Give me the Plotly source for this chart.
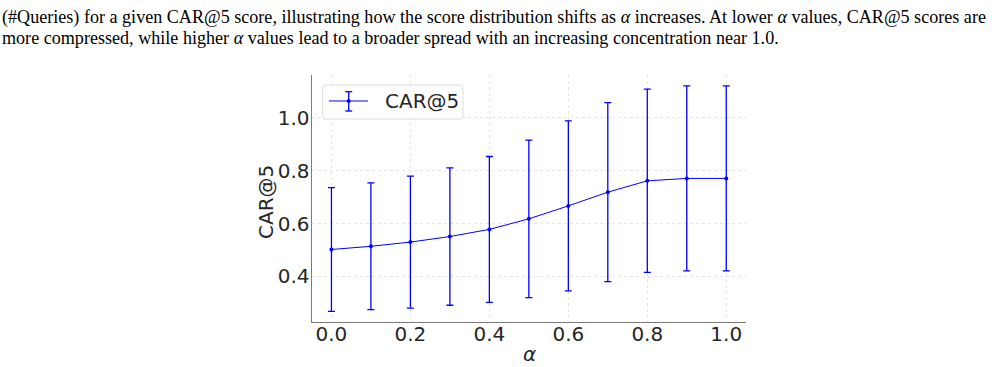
import plotly.graph_objects as go

# ---- data ----
alpha = [0.0, 0.1, 0.2, 0.3, 0.4, 0.5, 0.6, 0.7, 0.8, 0.9, 1.0]
car5_mean = [0.502, 0.514, 0.530, 0.551, 0.578, 0.618, 0.667, 0.719, 0.762, 0.771, 0.771]
car5_std = [0.234, 0.240, 0.250, 0.260, 0.276, 0.298, 0.322, 0.339, 0.347, 0.350, 0.350]
x_ticks = [0.0, 0.2, 0.4, 0.6, 0.8, 1.0]
x_ticklabels = ["0.0", "0.2", "0.4", "0.6", "0.8", "1.0"]
y_ticks = [0.4, 0.6, 0.8, 1.0]
y_ticklabels = ["0.4", "0.6", "0.8", "1.0"]
series_name = "CAR@5"
caption_line1 = ("(#Queries) for a given CAR@5 score, illustrating how the score distribution shifts as "
                 "<i>α</i> increases. At lower <i>α</i> values, CAR@5 scores are")
caption_line2 = ("more compressed, while higher <i>α</i> values lead to a broader spread with an "
                 "increasing concentration near 1.0.")

W, H = 1003, 367
def px(x):
    return x / W
def py(y):
    return 1 - y / H

BLUE = "#0000ff"
TXT = "#262626"
FS = 20

fig = go.Figure()
fig.add_trace(go.Scatter(
    x=alpha, y=car5_mean, mode="lines+markers", name=series_name,
    line=dict(color=BLUE, width=1),
    marker=dict(color=BLUE, size=4),
    error_y=dict(type="data", array=car5_std, visible=True, color=BLUE, thickness=1.3, width=3.5),
    showlegend=False,
))

fig.update_layout(
    width=W, height=H,
    margin=dict(l=0, r=0, t=0, b=0),
    paper_bgcolor="white", plot_bgcolor="white",
    font=dict(family="DejaVu Sans", color=TXT),
    xaxis=dict(
        domain=[px(311.7), px(746)], range=[-0.05, 1.05],
        tickvals=x_ticks, ticktext=x_ticklabels,
        showgrid=True, gridcolor="#e6e6e6", griddash="dot", gridwidth=1,
        showline=True, linecolor="#7a7a7a", linewidth=1.2, mirror=False,
        zeroline=False, ticks="", tickfont=dict(size=FS, color=TXT),
        ticklabelstandoff=-6,
    ),
    yaxis=dict(
        domain=[py(322), py(75)], range=[0.2275, 1.1625],
        tickvals=y_ticks, ticktext=y_ticklabels,
        showgrid=True, gridcolor="#e6e6e6", griddash="dot", gridwidth=1,
        showline=True, linecolor="#7a7a7a", linewidth=1.2, mirror=False,
        zeroline=False, ticks="", tickfont=dict(size=FS, color=TXT),
        ticklabelstandoff=-3,
    ),
)

# axis titles
fig.add_annotation(x=px(266), y=py(202), xref="paper", yref="paper", text=series_name,
                   textangle=-90, showarrow=False, font=dict(size=FS, color=TXT, family="DejaVu Sans"),
                   xanchor="center", yanchor="middle")
fig.add_annotation(x=px(529), y=py(354), xref="paper", yref="paper", text="<i>α</i>",
                   showarrow=False, font=dict(size=FS, color=TXT, family="DejaVu Sans"),
                   xanchor="center", yanchor="middle")

# caption
fig.add_annotation(x=0, y=py(17), xref="paper", yref="paper", text=caption_line1,
                   showarrow=False, xanchor="left", yanchor="middle",
                   font=dict(size=18.1, color="black", family="Liberation Serif"))
fig.add_annotation(x=0, y=py(38), xref="paper", yref="paper", text=caption_line2,
                   showarrow=False, xanchor="left", yanchor="middle",
                   font=dict(size=18.1, color="black", family="Liberation Serif"))

# custom legend (box + errorbar glyph + label)
x0, x1, y0, y1, r = 322.7, 463, 85, 119, 3
path = (f"M {px(x0+r)},{py(y0)} L {px(x1-r)},{py(y0)} Q {px(x1)},{py(y0)} {px(x1)},{py(y0+r)} "
        f"L {px(x1)},{py(y1-r)} Q {px(x1)},{py(y1)} {px(x1-r)},{py(y1)} "
        f"L {px(x0+r)},{py(y1)} Q {px(x0)},{py(y1)} {px(x0)},{py(y1-r)} "
        f"L {px(x0)},{py(y0+r)} Q {px(x0)},{py(y0)} {px(x0+r)},{py(y0)} Z")
fig.add_shape(type="path", path=path, xref="paper", yref="paper",
              line=dict(color="#dcdcdc", width=1), fillcolor="rgba(255,255,255,0.85)")
gy = 101
gx = 348.7
fig.add_shape(type="line", xref="paper", yref="paper", x0=px(329), x1=px(368), y0=py(gy), y1=py(gy),
              line=dict(color=BLUE, width=1))
fig.add_shape(type="line", xref="paper", yref="paper", x0=px(gx), x1=px(gx), y0=py(91.7), y1=py(111),
              line=dict(color=BLUE, width=1.3))
for cy in (91.7, 111):
    fig.add_shape(type="line", xref="paper", yref="paper", x0=px(gx-3.5), x1=px(gx+3.5), y0=py(cy), y1=py(cy),
                  line=dict(color=BLUE, width=1.3))
fig.add_shape(type="circle", xref="paper", yref="paper", x0=px(gx-2), x1=px(gx+2), y0=py(gy-2), y1=py(gy+2),
              line=dict(color=BLUE, width=0), fillcolor=BLUE)
fig.add_annotation(x=px(383), y=py(101), xref="paper", yref="paper", text=series_name,
                   showarrow=False, xanchor="left", yanchor="middle",
                   font=dict(size=FS, color=TXT, family="DejaVu Sans"))

fig.write_html("out.html")
